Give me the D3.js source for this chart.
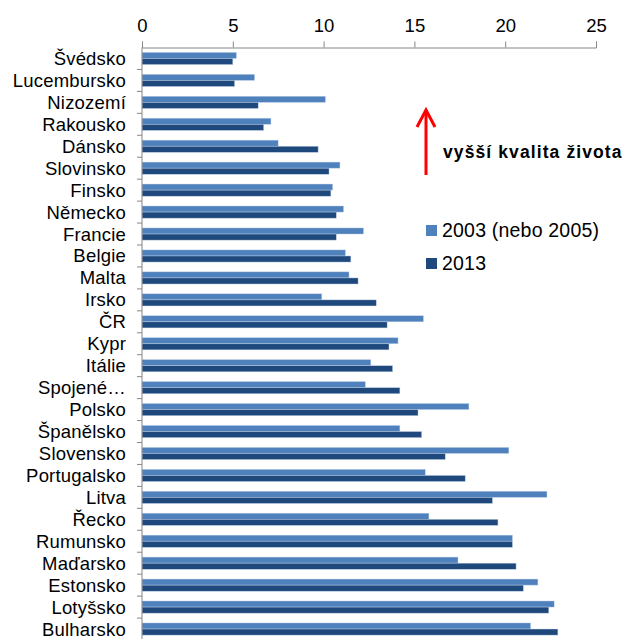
<!DOCTYPE html>
<html>
<head>
<meta charset="utf-8">
<script src="https://cdn.jsdelivr.net/npm/d3@7"></script>
<style>
  body { margin: 0; background: #fff; }
  svg { display: block; font-family: "Liberation Sans", Arial, sans-serif; }
</style>
</head>
<body>
<svg width="626" height="639"></svg>
<script>
const countries = ['Švédsko', 'Lucembursko', 'Nizozemí', 'Rakousko', 'Dánsko', 'Slovinsko', 'Finsko',
  'Německo', 'Francie', 'Belgie', 'Malta', 'Irsko', 'ČR', 'Kypr', 'Itálie', 'Spojené…', 'Polsko',
  'Španělsko', 'Slovensko', 'Portugalsko', 'Litva', 'Řecko', 'Rumunsko', 'Maďarsko', 'Estonsko',
  'Lotyšsko', 'Bulharsko'];
const series = ['2003 (nebo 2005)', '2013'];
const v2003 = [5.2, 6.2, 10.1, 7.1, 7.5, 10.9, 10.5, 11.1, 12.2, 11.2, 11.4, 9.9, 15.5, 14.1, 12.6,
  12.3, 18.0, 14.2, 20.2, 15.6, 22.3, 15.8, 20.4, 17.4, 21.8, 22.7, 21.4];
const v2013 = [5.0, 5.1, 6.4, 6.7, 9.7, 10.3, 10.4, 10.7, 10.7, 11.5, 11.9, 12.9, 13.5, 13.6, 13.8,
  14.2, 15.2, 15.4, 16.7, 17.8, 19.3, 19.6, 20.4, 20.6, 21.0, 22.4, 22.9];
const xTicks = [0, 5, 10, 15, 20, 25];
const colors = ['#4f81bd', '#1f497d'];

const svg = d3.select('svg');
const mLeft = 142, mRight = 596, mTop = 47.5, mBottom = 640;

const x = d3.scaleLinear().domain([0, 25]).range([mLeft, mRight]);
const y0 = d3.scaleBand().domain(countries).range([mTop, mBottom]);
const y1 = d3.scaleBand().domain(series).range([0, y0.bandwidth()]).paddingOuter(0.8);

const rows = countries.map((c, i) => ({ name: c, values: [v2003[i], v2013[i]] }));

// bars
const groups = svg.append('g').selectAll('g')
  .data(rows)
  .enter().append('g')
    .attr('transform', d => `translate(0,${y0(d.name)})`);

groups.selectAll('rect')
  .data(d => d.values.map((v, i) => ({ key: series[i], v, i })))
  .enter().append('rect')
    .attr('x', x(0))
    .attr('y', d => y1(d.key))
    .attr('width', d => x(d.v) - x(0))
    .attr('height', y1.bandwidth())
    .attr('fill', d => colors[d.i])
    .attr('stroke', 'rgba(200,215,235,0.7)')
    .attr('stroke-width', 0.6);

// top axis
const xAxis = svg.append('g')
  .attr('transform', `translate(0,${mTop})`)
  .call(d3.axisTop(x).tickValues(xTicks).tickSize(6).tickPadding(10));
xAxis.select('.domain').attr('stroke', '#868686');
xAxis.selectAll('.tick line').attr('stroke', '#868686');
xAxis.selectAll('text').attr('font-size', 18.5).attr('fill', '#000');

// left axis
const yAxis = svg.append('g');
yAxis.append('line')
  .attr('x1', mLeft).attr('x2', mLeft)
  .attr('y1', mTop).attr('y2', mBottom)
  .attr('stroke', '#868686');
yAxis.selectAll('line.tk')
  .data(countries.slice(1))
  .enter().append('line')
    .attr('class', 'tk')
    .attr('x1', mLeft - 5).attr('x2', mLeft)
    .attr('y1', d => y0(d)).attr('y2', d => y0(d))
    .attr('stroke', '#868686');
yAxis.selectAll('text')
  .data(countries)
  .enter().append('text')
    .attr('x', 126)
    .attr('y', d => y0(d) + y0.bandwidth() / 2)
    .attr('dy', '0.35em')
    .attr('text-anchor', 'end')
    .attr('font-size', 18.5)
    .attr('letter-spacing', 0.2)
    .text(d => d);

// red arrow
const arrow = svg.append('g')
  .attr('stroke', '#ff0000')
  .attr('stroke-width', 3)
  .attr('fill', 'none');
arrow.append('line').attr('x1', 426).attr('x2', 426).attr('y1', 175).attr('y2', 110);
arrow.append('path').attr('d', 'M417,127 L426,110 L435,127');

svg.append('text')
  .attr('x', 443)
  .attr('y', 158)
  .attr('font-size', 17.5)
  .attr('font-weight', 'bold')
  .attr('letter-spacing', 1.1)
  .text('vyšší kvalita života');

// legend
const legend = svg.append('g').selectAll('g')
  .data(series)
  .enter().append('g')
    .attr('transform', (d, i) => `translate(426,${230 + i * 33})`);
legend.append('rect')
  .attr('x', 0).attr('y', -5)
  .attr('width', 11).attr('height', 11)
  .attr('fill', (d, i) => colors[i]);
legend.append('text')
  .attr('x', 16)
  .attr('dy', '0.35em')
  .attr('font-size', 19.5)
  .attr('letter-spacing', 0.2)
  .text(d => d);
</script>
</body>
</html>
